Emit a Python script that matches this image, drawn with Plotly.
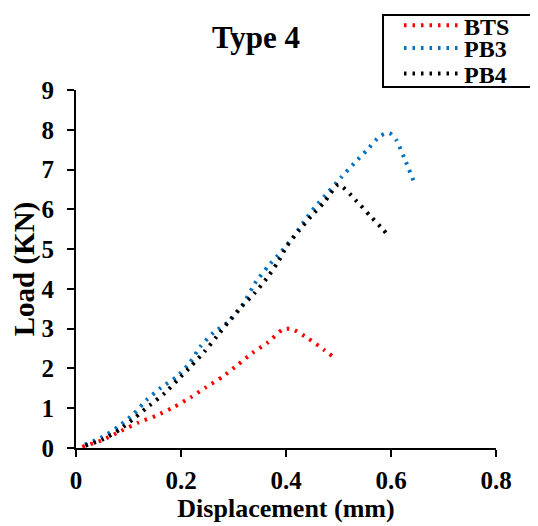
import plotly.graph_objects as go

# Load-displacement readings taken from the reference chart
bts_x = [0.012, 0.05, 0.086, 0.119, 0.152, 0.185, 0.218, 0.248, 0.279, 0.308, 0.336, 0.366, 0.394, 0.411, 0.443, 0.473, 0.488]
bts_y = [0.03, 0.20, 0.43, 0.64, 0.81, 1.02, 1.27, 1.53, 1.79, 2.09, 2.39, 2.66, 2.98, 2.99, 2.75, 2.46, 2.31]

pb3_x = [0.017, 0.051, 0.082, 0.110, 0.134, 0.162, 0.192, 0.217, 0.237, 0.262, 0.292, 0.315, 0.343, 0.366, 0.390,
         0.413, 0.434, 0.456, 0.481, 0.505, 0.530, 0.555, 0.580, 0.597, 0.610, 0.625, 0.646]
pb3_y = [0.085, 0.28, 0.55, 0.86, 1.20, 1.52, 1.79, 2.15, 2.55, 2.90, 3.19, 3.55, 4.18, 4.57, 4.92,
         5.29, 5.69, 6.07, 6.44, 6.80, 7.16, 7.50, 7.85, 7.92, 7.74, 7.30, 6.62]

pb4_x = [0.018, 0.052, 0.084, 0.112, 0.140, 0.169, 0.195, 0.220, 0.245, 0.268, 0.291, 0.315, 0.340, 0.363, 0.384,
         0.402, 0.425, 0.448, 0.473, 0.500, 0.535, 0.560, 0.585, 0.597]
pb4_y = [0.06, 0.22, 0.47, 0.76, 1.07, 1.38, 1.73, 2.07, 2.43, 2.80, 3.18, 3.55, 3.89, 4.26, 4.66,
         5.08, 5.47, 5.83, 6.18, 6.62, 6.20, 5.84, 5.49, 5.30]

series_names = ["BTS", "PB3", "PB4"]
series_x = [bts_x, pb3_x, pb4_x]
series_y = [bts_y, pb3_y, pb4_y]
series_colors = ["#FF0000", "#0070C0", "#000000"]

FONT = "Liberation Serif"
dots = "2.5px,6px"

# the page body adds an 8px margin, so the figure is drawn 8px smaller than the window
W, H = 530, 518

# one small legend per series so the rows sit as tight as in the reference;
# container refs keep them from pushing the top margin
legend_names = ["legend", "legend2", "legend3"]
legend_rows = [0.966, 0.922, 0.873]

fig = go.Figure()
for name, xs, ys, color, leg in zip(series_names, series_x, series_y, series_colors, legend_names):
    fig.add_trace(go.Scatter(x=xs, y=ys, name=name, mode="lines", legend=leg,
                             line=dict(color=color, width=4, dash=dots, shape="spline", smoothing=0.6)))

axis_common = dict(showgrid=False, zeroline=False, showline=True, linecolor="black", linewidth=2,
                   ticks="outside", ticklen=7, tickwidth=2, tickcolor="black", automargin=False,
                   tickfont=dict(family=FONT, size=25, color="black", weight="bold"))

fig.update_xaxes(range=[0, 0.8], tickvals=[0, 0.2, 0.4, 0.6, 0.8], ticktext=["0", "0.2", "0.4", "0.6", "0.8"],
                 ticklabelstandoff=2,
                 title=dict(text="Displacement (mm)", font=dict(family=FONT, size=26, color="black", weight="bold"),
                            standoff=6),
                 **axis_common)
fig.update_yaxes(range=[0, 9], dtick=1, ticklabelstandoff=8,
                 title=dict(text="Load (KN)", font=dict(family=FONT, size=29, color="black", weight="bold"),
                            standoff=8),
                 **axis_common)

legend_style = dict(x=391 / W, xanchor="left", xref="container", yanchor="middle", yref="container",
                    bgcolor="rgba(0,0,0,0)", borderwidth=0, itemwidth=55,
                    font=dict(family=FONT, size=24, color="black", weight="bold"))

fig.update_layout(
    width=W, height=H,
    margin=dict(l=68, r=42, t=82, b=78, autoexpand=False),
    paper_bgcolor="white", plot_bgcolor="white",
    font=dict(family=FONT, color="black", weight="bold"),
    title=dict(text="Type 4", x=248 / W, xanchor="center", xref="container",
               y=1 - 29 / H, yanchor="middle", yref="container",
               font=dict(family=FONT, size=31, color="black", weight="bold")),
    legend=dict(y=legend_rows[0], **legend_style),
    legend2=dict(y=legend_rows[1], **legend_style),
    legend3=dict(y=legend_rows[2], **legend_style),
    shapes=[dict(type="rect", xref="paper", yref="paper", x0=0.731, x1=1.0976, y0=1.0084, y1=1.2095,
                 line=dict(color="black", width=2), fillcolor="rgba(0,0,0,0)", layer="below")],
    showlegend=True,
)

fig.write_html("out.html")
